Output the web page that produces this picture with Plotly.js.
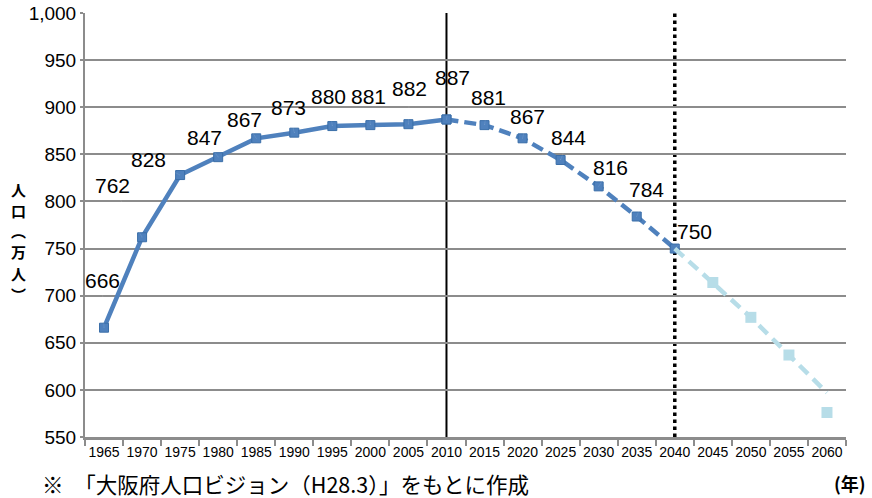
<!DOCTYPE html>
<html><head><meta charset="utf-8">
<script src="https://cdn.plot.ly/plotly-3.0.1.min.js"></script>
<style>html,body{margin:0;padding:0;background:#fff}#chart{width:872px;height:498px}</style>
</head><body><div id="chart"></div>
<script>
const years = ['1965','1970','1975','1980','1985','1990','1995','2000','2005','2010','2015','2020','2025','2030','2035','2040','2045','2050','2055','2060'];
const actualYears = ['1965','1970','1975','1980','1985','1990','1995','2000','2005','2010'];
const actualPop = [666,762,828,847,867,873,880,881,882,887];
const projYears = ['2010','2015','2020','2025','2030','2035','2040'];
const projPop = [887,881,867,844,816,784,750];
const extLineYears = ['2040','2045','2050','2055','2060'];
const extLinePop = [750,714,677,637,597];
const extMarkYears = ['2045','2050','2055','2060'];
const extMarkPop = [714,677,637,576];
const labelYears = ['1965','1970','1975','1980','1985','1990','1995','2000','2005','2010','2015','2020','2025','2030','2035','2040'];
const labelPop = [666,762,828,847,867,873,880,881,882,887,881,867,844,816,784,750];
const markerYears = ['2010','2040'];
const yTitle = '人口︵万人︶';
const xTitle = '(年)';
const note = '※　「大阪府人口ビジョン（H28.3）」をもとに作成';
// label pixel offsets (style)
const labelDx = [-2,-30,-32,-14,-12,-6,-4,-2,1,6,4,5,8,12,10,20];
const labelDy = [-47,-52,-16,-20,-19,-25,-30,-29,-36,-42,-28,-22,-22,-19,-27,-17];

const dark = '#4f81bd';
const light = '#b7dde8';
const numFont = '"Liberation Sans", Arial, sans-serif';
const jpFont = '"Noto Sans CJK JP", sans-serif';
const idx = y => years.indexOf(y);

const traces = [
  {x: actualYears, y: actualPop, mode:'lines+markers', line:{color:dark,width:4.5},
   marker:{symbol:'square',size:9,color:dark,line:{color:'#3a6ea8',width:1}}, hoverinfo:'skip'},
  {x: projYears, y: projPop, mode:'lines+markers', line:{color:dark,width:4.5,dash:'12px,6px'},
   marker:{symbol:'square',size:9,color:dark,line:{color:'#3a6ea8',width:1}}, hoverinfo:'skip'},
  {x: extLineYears, y: extLinePop, mode:'lines', line:{color:light,width:4.5,dash:'12px,7px'}, hoverinfo:'skip'},
  {x: extMarkYears, y: extMarkPop, mode:'markers',
   marker:{symbol:'square',size:11,color:light}, hoverinfo:'skip'}
];

const annotations = labelYears.map((yr,i)=>({
  x: idx(yr), y: labelPop[i], xref:'x', yref:'y', text: String(labelPop[i]),
  showarrow:true, arrowwidth:0.1, arrowcolor:'#ffffff', standoff:0, ax: labelDx[i], ay: labelDy[i],
  font:{family:numFont,size:21,color:'#000'}
}));
Array.from(yTitle).forEach((c,i)=>annotations.push({
  xref:'paper', yref:'paper', x:(18-85)/761, y:(437-(189+i*21))/424, xanchor:'center', yanchor:'middle',
  text:'<b>'+c+'</b>', showarrow:false, borderpad:0,
  font:{family:jpFont,size:15,color:'#000'}
}));
annotations.push({
  xref:'paper', yref:'paper', x:(850-85)/761, y:(437-483)/424, xanchor:'center', yanchor:'middle',
  text:'<b>'+xTitle+'</b>', showarrow:false,
  font:{family:jpFont,size:18,color:'#000'}
});
annotations.push({
  xref:'paper', yref:'paper', x:(40-85)/761, y:(437-466)/424, xanchor:'left', yanchor:'top',
  text: note, showarrow:false,
  font:{family:jpFont,size:21.5,color:'#000'}
});

const layout = {
  width:872, height:498,
  margin:{l:85,r:26,t:13,b:61},
  paper_bgcolor:'#fff', plot_bgcolor:'#fff',
  showlegend:false,
  xaxis:{type:'category', categoryorder:'array', categoryarray: years,
    tickson:'boundaries', ticks:'outside', ticklen:6, tickwidth:2, tickcolor:'#8c8c8c', tickangle:0,
    showline:true, linecolor:'#8c8c8c', linewidth:3, showgrid:false, zeroline:false,
    tickfont:{family:numFont,size:14,color:'#000'}, range:[-0.5,19.5], fixedrange:true},
  yaxis:{range:[550,1000], dtick:50, tickformat:',', showgrid:true, gridcolor:'#8c8c8c', gridwidth:2,
    showline:true, linecolor:'#8c8c8c', linewidth:2, ticks:'outside', ticklen:3, tickcolor:'#8c8c8c', tickwidth:2,
    zeroline:false, tickfont:{family:numFont,size:19,color:'#000'}, fixedrange:true},
  shapes: markerYears.map((yr,i)=>({type:'line', xref:'x', yref:'paper', x0:idx(yr), x1:idx(yr), y0:0, y1:1, layer:'below',
    line: i===0 ? {color:'#000',width:2} : {color:'#000',width:3.5,dash:'dot'}})),
  annotations: annotations
};
Plotly.newPlot('chart', traces, layout, {displayModeBar:false, staticPlot:true});
</script></body></html>
